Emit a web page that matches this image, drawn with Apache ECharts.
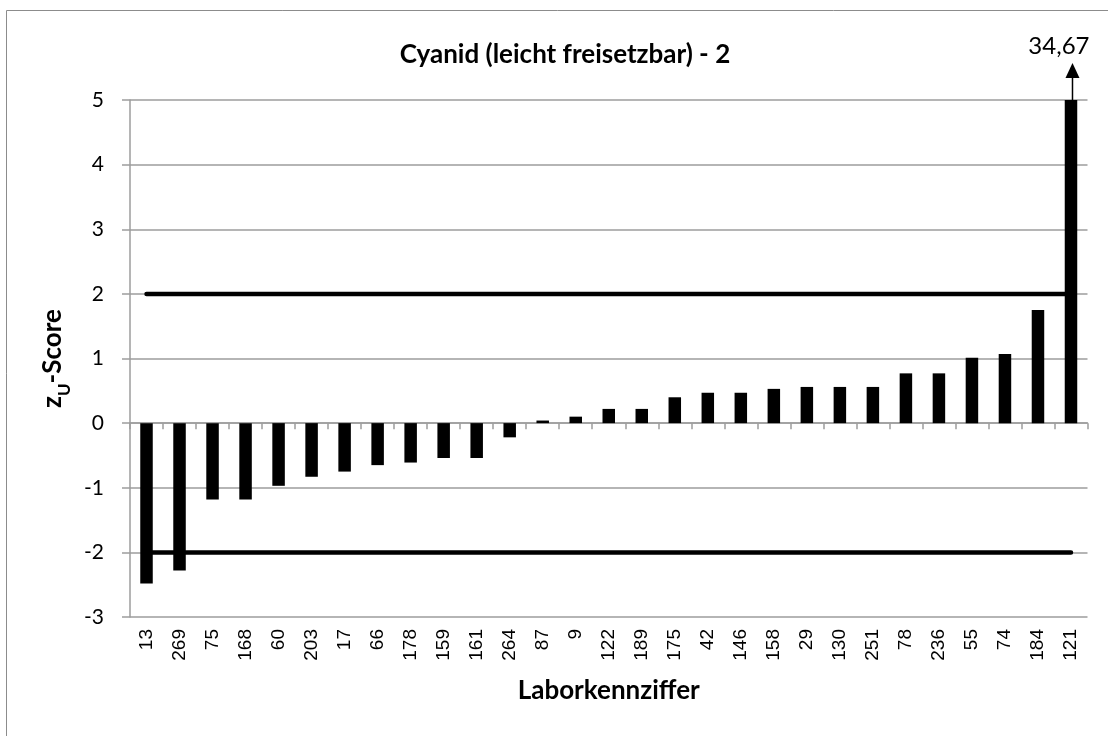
<!DOCTYPE html>
<html>
<head>
<meta charset="utf-8">
<script src="https://cdn.jsdelivr.net/npm/echarts@6/dist/echarts.min.js"></script>
<style>
  html, body { margin: 0; padding: 0; background: #fff; }
  #chart { width: 1108px; height: 736px; }
</style>
</head>
<body>
<div id="chart"></div>
<script>
// Laboratory codes (x categories), sorted by z_U score
const labs = ['13','269','75','168','60','203','17','66','178','159','161','264','87','9','122',
              '189','175','42','146','158','29','130','251','78','236','55','74','184','121'];
// z_U scores per laboratory
const scores = [-2.48,-2.28,-1.18,-1.18,-0.97,-0.83,-0.75,-0.65,-0.61,-0.54,-0.54,-0.22,0.04,0.10,0.22,
                0.22,0.40,0.47,0.47,0.53,0.56,0.56,0.56,0.77,0.77,1.01,1.07,1.75,34.67];
// Acceptance limits |z_U| <= 2
const upperLimit = labs.map(() => 2);
const lowerLimit = labs.map(() => -2);
// Value axis range
const Y_MIN = -3, Y_MAX = 5;

// Scores beyond the axis range get an arrow with the real value
const offScale = scores
  .map((v, i) => [i, v])
  .filter(d => d[1] > Y_MAX);

const GRID_COLOR = '#9d9d9d';

const chart = echarts.init(document.getElementById('chart'));

chart.setOption({
  backgroundColor: '#fff',
  animation: false,
  title: {
    text: 'Cyanid (leicht freisetzbar) - 2',
    left: 560,
    top: 37,
    textAlign: 'center',
    textStyle: { fontFamily: 'Lato', fontWeight: 'bold', fontSize: 26, color: '#000' }
  },
  graphic: [{
    type: 'rect',
    shape: { x: 6.5, y: 10.5, width: 1120, height: 740 },
    style: { fill: 'none', stroke: '#8c8c8c', lineWidth: 1 },
    silent: true
  }],
  grid: { left: 130, right: 20.5, top: 100, bottom: 119 },
  xAxis: [{
    type: 'category',
    data: labs,
    position: 'bottom',
    axisLine: { show: false, onZero: false },
    axisTick: { show: false },
    axisLabel: {
      rotate: 90, margin: 12, color: '#000',
      fontFamily: 'Liberation Sans', fontSize: 19
    },
    name: 'Laborkennziffer',
    nameLocation: 'middle',
    nameGap: 61,
    nameTextStyle: { fontFamily: 'Lato', fontWeight: 'bold', fontSize: 26, color: '#000' }
  }, {
    // zero line with ticks between categories
    type: 'category',
    data: labs,
    position: 'top',
    axisLine: { show: true, onZero: true, lineStyle: { color: GRID_COLOR, width: 1.5 } },
    axisTick: { show: true, inside: true, length: 6, lineStyle: { color: GRID_COLOR, width: 1.5 } },
    axisLabel: { show: false }
  }],
  yAxis: {
    type: 'value',
    min: Y_MIN, max: Y_MAX, interval: 1,
    axisLine: { show: true, lineStyle: { color: GRID_COLOR, width: 1.5 } },
    axisTick: { show: true, length: 8, lineStyle: { color: GRID_COLOR, width: 1.5 } },
    splitLine: { show: true, lineStyle: { color: GRID_COLOR, width: 1.5 } },
    axisLabel: { margin: 26, color: '#000', fontFamily: 'Lato', fontSize: 21 },
    name: '{z|z}{sub|U}{z|-Score}',
    nameLocation: 'middle',
    nameGap: 58,
    nameTextStyle: {
      rich: {
        z: { fontFamily: 'Lato', fontWeight: 'bold', fontSize: 26, color: '#000', lineHeight: 30 },
        sub: { fontFamily: 'Lato', fontWeight: 'bold', fontSize: 17, color: '#000',
               verticalAlign: 'bottom', lineHeight: 30, padding: [0, 0, -6, 0] }
      }
    }
  },
  series: [{
    name: 'z_U-Score',
    type: 'bar',
    data: scores,
    xAxisIndex: 0,
    barWidth: 12.5,
    itemStyle: { color: '#000' },
    clip: true,
    z: 3
  }, {
    name: 'oben',
    type: 'line',
    data: upperLimit,
    xAxisIndex: 0,
    showSymbol: false,
    symbol: 'none',
    lineStyle: { color: '#000', width: 4.5, cap: 'round' },
    z: 2
  }, {
    name: 'unten',
    type: 'line',
    data: lowerLimit,
    xAxisIndex: 0,
    showSymbol: false,
    symbol: 'none',
    lineStyle: { color: '#000', width: 4.5, cap: 'round' },
    z: 2
  }, {
    // arrow and value label for scores above the axis maximum
    name: 'off-scale',
    type: 'custom',
    xAxisIndex: 0,
    data: offScale,
    clip: false,
    z: 4,
    renderItem: function (params, api) {
      const idx = api.value(0);
      const val = api.value(1);
      const p = api.coord([idx, Y_MAX]);
      const x = p[0] + 1.5;
      const top = p[1];
      return {
        type: 'group',
        children: [{
          type: 'line',
          shape: { x1: x, y1: top, x2: x, y2: top - 22 },
          style: { stroke: '#000', lineWidth: 1.5 }
        }, {
          type: 'polygon',
          shape: { points: [[x, top - 37], [x - 7, top - 22], [x + 7, top - 22]] },
          style: { fill: '#000' }
        }, {
          type: 'text',
          style: {
            text: val.toFixed(2).replace('.', ','),
            x: x + 17, y: top - 42,
            align: 'right', verticalAlign: 'bottom',
            fontFamily: 'Lato', fontSize: 24, fill: '#000'
          }
        }]
      };
    }
  }]
});
</script>
</body>
</html>
